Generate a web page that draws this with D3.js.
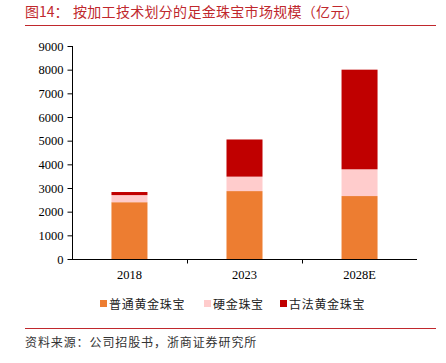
<!DOCTYPE html>
<head>
  <meta charset="utf-8">
  <script src="https://d3js.org/d3.v7.min.js"></script>
  <style>
    body { margin:0; background:#fff; }
    .cjk { font-family: "Noto Sans CJK SC", sans-serif; }
  </style>
</head>

<body>
  <script>
    // data
    var years = ["2018", "2023", "2028E"];
    var seriesNames = ["普通黄金珠宝", "硬金珠宝", "古法黄金珠宝"];
    var putong = [2400, 2870, 2660];
    var yingjin = [300, 610, 1130];
    var gufa = [130, 1570, 4210];
    var yTicks = [0, 1000, 2000, 3000, 4000, 5000, 6000, 7000, 8000, 9000];
    var colors = ["#ED7D31", "#FFCCCC", "#C00000"];

    var width = 446, height = 363;
    var margin = {left: 72, right: 29, top: 46, bottom: 104};
    var serif = '"Liberation Serif", "Times New Roman", serif';

    var svg = d3.select("body").append("svg")
      .attr("width", width)
      .attr("height", height);

    // title + red rules
    svg.append("text").attr("class", "cjk")
      .attr("x", 25).attr("y", 17)
      .attr("fill", "#C0282D").attr("font-size", 14)
      .text("图14：");
    svg.append("text").attr("class", "cjk")
      .attr("x", 73).attr("y", 17)
      .attr("fill", "#C0282D").attr("font-size", 14)
      .attr("letter-spacing", 0.3)
      .text("按加工技术划分的足金珠宝市场规模（亿元）");
    svg.append("line").attr("x1", 25).attr("x2", 436).attr("y1", 25.5).attr("y2", 25.5)
      .attr("stroke", "#C0282D").attr("stroke-width", 1);
    svg.append("line").attr("x1", 25).attr("x2", 436).attr("y1", 328.5).attr("y2", 328.5)
      .attr("stroke", "#C0282D").attr("stroke-width", 1);
    svg.append("text").attr("class", "cjk")
      .attr("x", 25).attr("y", 347)
      .attr("fill", "#333").attr("font-size", 12)
      .attr("letter-spacing", 0.9)
      .text("资料来源：公司招股书，浙商证券研究所");

    var rows = years.map(function(y, i) {
      return {year: y, a: putong[i], b: yingjin[i], c: gufa[i]};
    });
    var stack = d3.stack().keys(["a", "b", "c"]);
    var layers = stack(rows);

    var x = d3.scaleBand().domain(years)
      .range([margin.left, width - margin.right])
      .paddingInner(0.687).paddingOuter(0.343);
    var y = d3.scaleLinear().domain([0, 9000])
      .range([height - margin.bottom, margin.top]);

    var g = svg.append("g");
    g.selectAll("g.layer")
      .data(layers)
      .enter().append("g")
      .attr("class", "layer")
      .attr("fill", function(d, i) { return colors[i]; })
      .selectAll("rect")
      .data(function(d) { return d; })
      .enter().append("rect")
      .attr("x", function(d) { return x(d.data.year); })
      .attr("width", x.bandwidth())
      .attr("y", function(d) { return y(d[1]); })
      .attr("height", function(d) { return y(d[0]) - y(d[1]); });

    // y axis
    var yAxis = svg.append("g")
      .attr("transform", "translate(" + (margin.left + 0.5) + ",0)")
      .call(d3.axisLeft(y).tickValues(yTicks).tickSize(5).tickPadding(4).tickFormat(d3.format("d")));
    yAxis.attr("font-family", serif).attr("font-size", 12.5);
    yAxis.selectAll("path, line").attr("stroke", "#000");
    yAxis.selectAll("text").attr("fill", "#000");
    yAxis.select(".domain").attr("d", "M0," + y(9000) + "V" + (y(0) + 0.5));

    // x axis, ticks between categories
    var step = x.step();
    var xAxis = svg.append("g")
      .attr("font-family", serif).attr("font-size", 12.5)
      .attr("transform", "translate(0," + (y(0) + 0.5) + ")");
    xAxis.append("line").attr("x1", margin.left).attr("x2", width - margin.right)
      .attr("stroke", "#000");
    xAxis.selectAll("line.tk")
      .data(years.slice(1))
      .enter().append("line").attr("class", "tk")
      .attr("x1", function(d) { return Math.round(x(d) - (step - x.bandwidth()) / 2) + 0.5; })
      .attr("x2", function(d) { return Math.round(x(d) - (step - x.bandwidth()) / 2) + 0.5; })
      .attr("y1", 0).attr("y2", 4)
      .attr("stroke", "#000");
    xAxis.selectAll("text")
      .data(years)
      .enter().append("text")
      .attr("x", function(d) { return x(d) + x.bandwidth() / 2; })
      .attr("y", 19)
      .attr("text-anchor", "middle")
      .text(function(d) { return d; });

    // legend
    var legendX = [100, 204, 280];
    var lg = svg.selectAll("g.legend")
      .data(seriesNames)
      .enter().append("g").attr("class", "legend")
      .attr("transform", function(d, i) { return "translate(" + legendX[i] + ",304)"; });
    lg.append("rect").attr("x", 0).attr("y", -4).attr("width", 7).attr("height", 7)
      .attr("fill", function(d, i) { return colors[i]; });
    lg.append("text").attr("class", "cjk")
      .attr("x", 9).attr("y", 4.5)
      .attr("font-size", 12).attr("letter-spacing", 0.7)
      .attr("fill", "#222")
      .text(function(d) { return d; });
  </script>
</body>
